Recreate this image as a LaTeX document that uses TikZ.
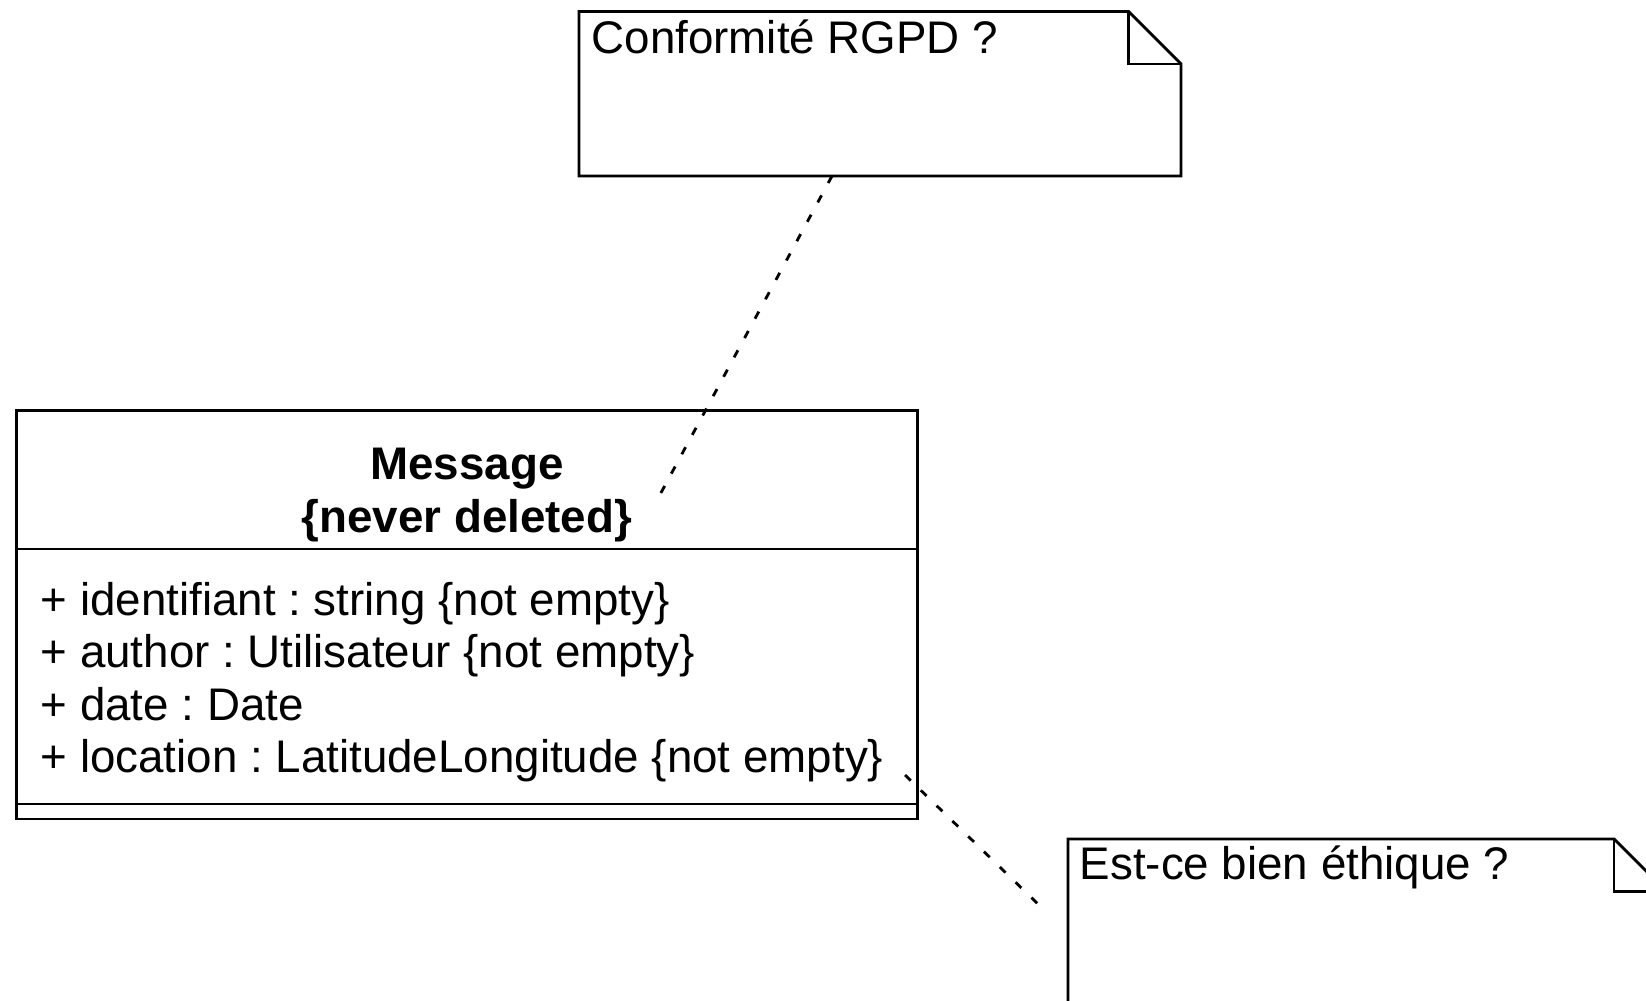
\documentclass[tikz,border=0pt]{standalone}
\usepackage{fontspec}
\setmainfont{Liberation Sans}
\usepackage{tikz}
\frenchspacing
\tikzstyle{umlbox}=[shape=rectangle,draw,line width=0.8pt,inner sep=0pt]
\tikzstyle{txt}=[inner sep=0pt,anchor=base west,font=\fontsize{13}{15}\selectfont]
\tikzstyle{ttl}=[inner sep=0pt,anchor=base,font=\fontsize{13}{15}\selectfont\bfseries]
\tikzstyle{noteline}=[line width=0.8pt,line join=miter]
\tikzstyle{anchorline}=[line width=0.8pt,dash pattern=on 0.08cm off 0.14cm]

\begin{document}
\begin{tikzpicture}[x=0.01cm,y=-0.01cm]
            \useasboundingbox (0,0) rectangle (1646,1000);
            % class Message
            \node[umlbox,minimum width=9.006cm,minimum height=4.084cm] (msg) at (467.1,614.6) {};
            \draw[line width=0.8pt] (msg.west |- 0,549) -- (msg.east |- 0,549);
            \draw[line width=0.8pt] (msg.west |- 0,804) -- (msg.east |- 0,804);
            \node[ttl] (msgname) at (467,479) {Message};
            \node[ttl] (msgrule) at (467,532) {\{never deleted\}};
            \node[txt] (attr1) at (40,615) {+ identifiant : string \{not empty\}};
            \node[txt] (attr2) at (40,667.5) {+ author : Utilisateur \{not empty\}};
            \node[txt] (attr3) at (40,720) {+ date : Date};
            \node[txt] (attr4) at (40,772.5) {+ location : LatitudeLongitude \{not empty\}};
            % notes
            \draw[noteline] (579,11.5) -- (1128.5,11.5) -- (1181,64) -- (1181,176) -- (579,176) -- cycle;
            \draw[noteline] (1128.5,11.5) -- (1128.5,64) -- (1181,64);
            \node[txt] (rgpd) at (591,53) {Conformité RGPD ?};
            \draw[noteline] (1068,1010) -- (1068,839) -- (1614,839) -- (1666.5,891.5) -- (1666.5,1010);
            \draw[noteline] (1614,839) -- (1614,891.5) -- (1666.5,891.5);
            \node[txt] (ethique) at (1079,879) {Est-ce bien éthique ?};
            % liens
            \coordinate (rgpdfoot) at (832,176);
            \coordinate (rgpdend) at (656,502);
            \draw[anchorline] (rgpdfoot) -- (rgpdend);
            \coordinate (ethstart) at (905,775);
            \coordinate (ethend) at (1039,905);
            \draw[anchorline] (ethstart) -- (ethend);
        \end{tikzpicture}
\end{document}
